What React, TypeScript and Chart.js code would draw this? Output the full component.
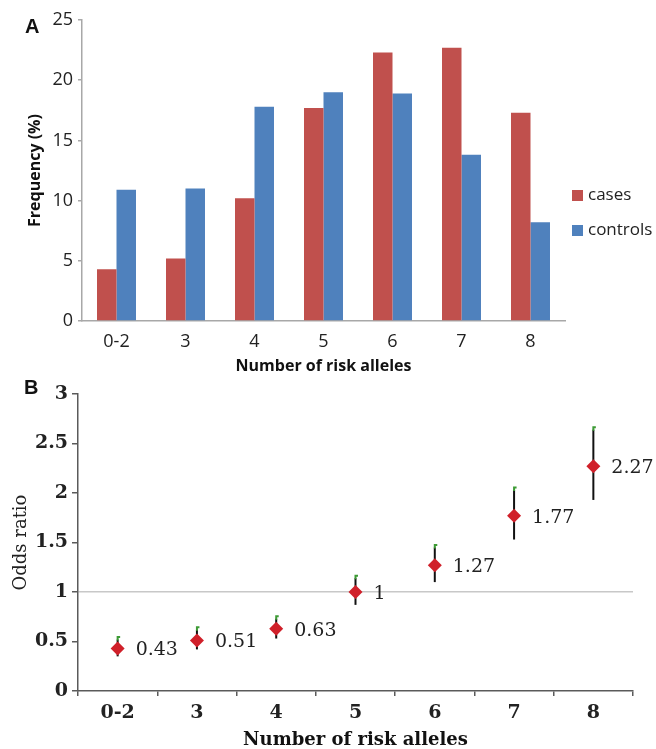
import React, { useEffect, useRef } from 'react';
import { Chart, registerables } from 'chart.js';

Chart.register(...registerables);

// ---- data ----
const alleleCategories = ['0-2', '3', '4', '5', '6', '7', '8'];
const casesFreq = [4.3, 5.2, 10.2, 17.7, 22.3, 22.7, 17.3];
const controlsFreq = [10.9, 11.0, 17.8, 19.0, 18.9, 13.8, 8.2];
const seriesNames = ['cases', 'controls'];

const oddsRatio = [0.43, 0.51, 0.63, 1, 1.27, 1.77, 2.27];
const ciLower = [0.35, 0.42, 0.53, 0.87, 1.1, 1.53, 1.93];
const ciUpper = [0.55, 0.65, 0.76, 1.17, 1.48, 2.06, 2.67];

const freqMax = 25;
const freqStep = 5;
const oddsMax = 3;
const oddsStep = 0.5;

// ---- styles ----
const SANS = "'Open Sans', 'DejaVu Sans', sans-serif";
const SERIF = "'DejaVu Serif', serif";
const RED = '#c0504d';
const BLUE = '#4f81bd';
const AXIS_A = '#a8a8a8';
const AXIS_B = '#5a5a5a';

const panelLabel = (text: string, x: number, y: number) => ({
  id: 'panelLabel' + text,
  afterDraw(chart: any) {
    const ctx = chart.ctx;
    ctx.save();
    ctx.font = "bold 20px 'Liberation Sans', Arial, sans-serif";
    ctx.fillStyle = '#111';
    ctx.textAlign = 'left';
    ctx.textBaseline = 'middle';
    ctx.fillText(text, x, y);
    ctx.restore();
  },
});

const sideLegend = {
  id: 'sideLegend',
  afterDraw(chart: any) {
    const ctx = chart.ctx;
    const area = chart.chartArea;
    ctx.save();
    ctx.font = `17px ${SANS}`;
    ctx.textAlign = 'left';
    ctx.textBaseline = 'middle';
    chart.data.datasets.forEach((ds: any, i: number) => {
      const cy = area.top + 175 + i * 35;
      ctx.fillStyle = ds.backgroundColor;
      ctx.fillRect(area.right + 7, cy - 5, 11, 11);
      ctx.fillStyle = '#222';
      ctx.fillText(ds.label, area.right + 23, cy);
    });
    ctx.restore();
  },
};

const errorBars = {
  id: 'errorBars',
  beforeDatasetsDraw(chart: any) {
    const { ctx } = chart;
    const x = chart.scales.x;
    const y = chart.scales.y;
    ctx.save();
    ciLower.forEach((lo, i) => {
      const px = x.getPixelForValue(i);
      const yl = y.getPixelForValue(lo);
      const yh = y.getPixelForValue(ciUpper[i]);
      ctx.strokeStyle = '#111';
      ctx.lineWidth = 2;
      ctx.beginPath();
      ctx.moveTo(px, yl);
      ctx.lineTo(px, yh + 3);
      ctx.stroke();
      ctx.strokeStyle = '#3d9b35';
      ctx.lineWidth = 2;
      ctx.beginPath();
      ctx.moveTo(px, yh + 4);
      ctx.lineTo(px, yh + 0.5);
      ctx.lineTo(px + 2.5, yh + 0.5);
      ctx.stroke();
    });
    ctx.restore();
  },
};

const pointLabels = {
  id: 'pointLabels',
  afterDatasetsDraw(chart: any) {
    const { ctx } = chart;
    const meta = chart.getDatasetMeta(0);
    ctx.save();
    ctx.font = `19px ${SERIF}`;
    ctx.fillStyle = '#222';
    ctx.textAlign = 'left';
    ctx.textBaseline = 'middle';
    meta.data.forEach((el: any, i: number) => {
      ctx.fillText(String(oddsRatio[i]), el.x + 18, el.y + 2);
    });
    ctx.restore();
  },
};

export default function App() {
  const refA = useRef<HTMLCanvasElement>(null);
  const refB = useRef<HTMLCanvasElement>(null);

  useEffect(() => {
    const chartA = new Chart(refA.current as HTMLCanvasElement, {
      type: 'bar',
      data: {
        labels: alleleCategories,
        datasets: [
          {
            label: seriesNames[0],
            data: casesFreq,
            backgroundColor: RED,
            categoryPercentage: 0.565,
            barPercentage: 1,
          },
          {
            label: seriesNames[1],
            data: controlsFreq,
            backgroundColor: BLUE,
            categoryPercentage: 0.565,
            barPercentage: 1,
          },
        ],
      },
      options: {
        responsive: false,
        animation: false,
        layout: { padding: { left: 0, right: 91, top: 20, bottom: 0 } },
        plugins: { legend: { display: false }, tooltip: { enabled: false } },
        scales: {
          x: {
            grid: { display: false },
            border: { display: true, color: AXIS_A, width: 1.5 },
            ticks: { font: { family: SANS, size: 18 }, color: '#222', padding: 2 },
            title: {
              display: true,
              text: 'Number of risk alleles',
              font: { family: SANS, size: 16, weight: 'bold' },
              color: '#111',
              padding: { top: 0, bottom: 0 },
            },
            afterFit: (s: any) => {
              s.height = 55;
            },
          },
          y: {
            min: 0,
            max: freqMax,
            ticks: { stepSize: freqStep, font: { family: SANS, size: 18 }, color: '#222', padding: 5 },
            grid: { display: true, drawOnChartArea: false, drawTicks: true, tickLength: 4, color: AXIS_A, lineWidth: 1.5 },
            border: { display: true, color: AXIS_A, width: 1.5 },
            title: {
              display: true,
              text: 'Frequency (%)',
              font: { family: SANS, size: 16, weight: 'bold' },
              color: '#111',
              padding: { top: 26, bottom: 0 },
            },
            afterFit: (s: any) => {
              s.width = 82;
            },
          },
        },
      } as any,
      plugins: [sideLegend, panelLabel('A', 25, 27)],
    });

    const chartB = new Chart(refB.current as HTMLCanvasElement, {
      type: 'line',
      data: {
        labels: alleleCategories,
        datasets: [
          {
            label: 'Odds ratio',
            data: oddsRatio,
            showLine: false,
            pointStyle: 'rectRot',
            pointRadius: 7,
            pointBackgroundColor: '#d0202a',
            pointBorderColor: '#d0202a',
            pointBorderWidth: 0,
          },
        ],
      },
      options: {
        responsive: false,
        animation: false,
        layout: { padding: { left: 0, right: 23, top: 18, bottom: 0 } },
        plugins: { legend: { display: false }, tooltip: { enabled: false } },
        scales: {
          x: {
            offset: true,
            grid: {
              display: true,
              offset: true,
              drawOnChartArea: false,
              drawTicks: true,
              tickLength: 5,
              color: AXIS_B,
              lineWidth: 1.5,
            },
            border: { display: true, color: AXIS_B, width: 1.5 },
            ticks: { font: { family: SERIF, size: 19, weight: 'bold' }, color: '#222', padding: 6 },
            title: {
              display: true,
              text: 'Number of risk alleles',
              font: { family: SERIF, size: 18, weight: 'bold' },
              color: '#111',
              padding: { top: 0, bottom: 10 },
            },
            afterFit: (s: any) => {
              s.height = 70;
            },
          },
          y: {
            min: 0,
            max: oddsMax,
            ticks: {
              stepSize: oddsStep,
              font: { family: SERIF, size: 19, weight: 'bold' },
              color: '#222',
              padding: 4,
              callback: (v: any) => String(Number(v)),
            },
            grid: {
              display: true,
              drawTicks: true,
              tickLength: 6,
              color: (c: any) => (c.tick && c.tick.value === 1 ? '#c8c8c8' : 'rgba(0,0,0,0)'),
              tickColor: AXIS_B,
              lineWidth: 1.5,
            },
            border: { display: true, color: AXIS_B, width: 1.5 },
            title: {
              display: true,
              text: 'Odds ratio',
              font: { family: SERIF, size: 18 },
              color: '#222',
              padding: { top: 11, bottom: 0 },
            },
            afterFit: (s: any) => {
              s.width = 78;
            },
          },
        },
      } as any,
      plugins: [errorBars, pointLabels, panelLabel('B', 24, 12)],
    });

    return () => {
      chartA.destroy();
      chartB.destroy();
    };
  }, []);

  return (
    <div
      style={{
        position: 'absolute',
        left: 0,
        top: 0,
        width: 656,
        height: 749,
        overflow: 'hidden',
        background: '#fff',
      }}
    >
      <canvas
        ref={refA}
        width={656}
        height={376}
        style={{ position: 'absolute', left: 0, top: 0, width: 656, height: 376 }}
      />
      <canvas
        ref={refB}
        width={656}
        height={385}
        style={{ position: 'absolute', left: 0, top: 376, width: 656, height: 385 }}
      />
    </div>
  );
}
